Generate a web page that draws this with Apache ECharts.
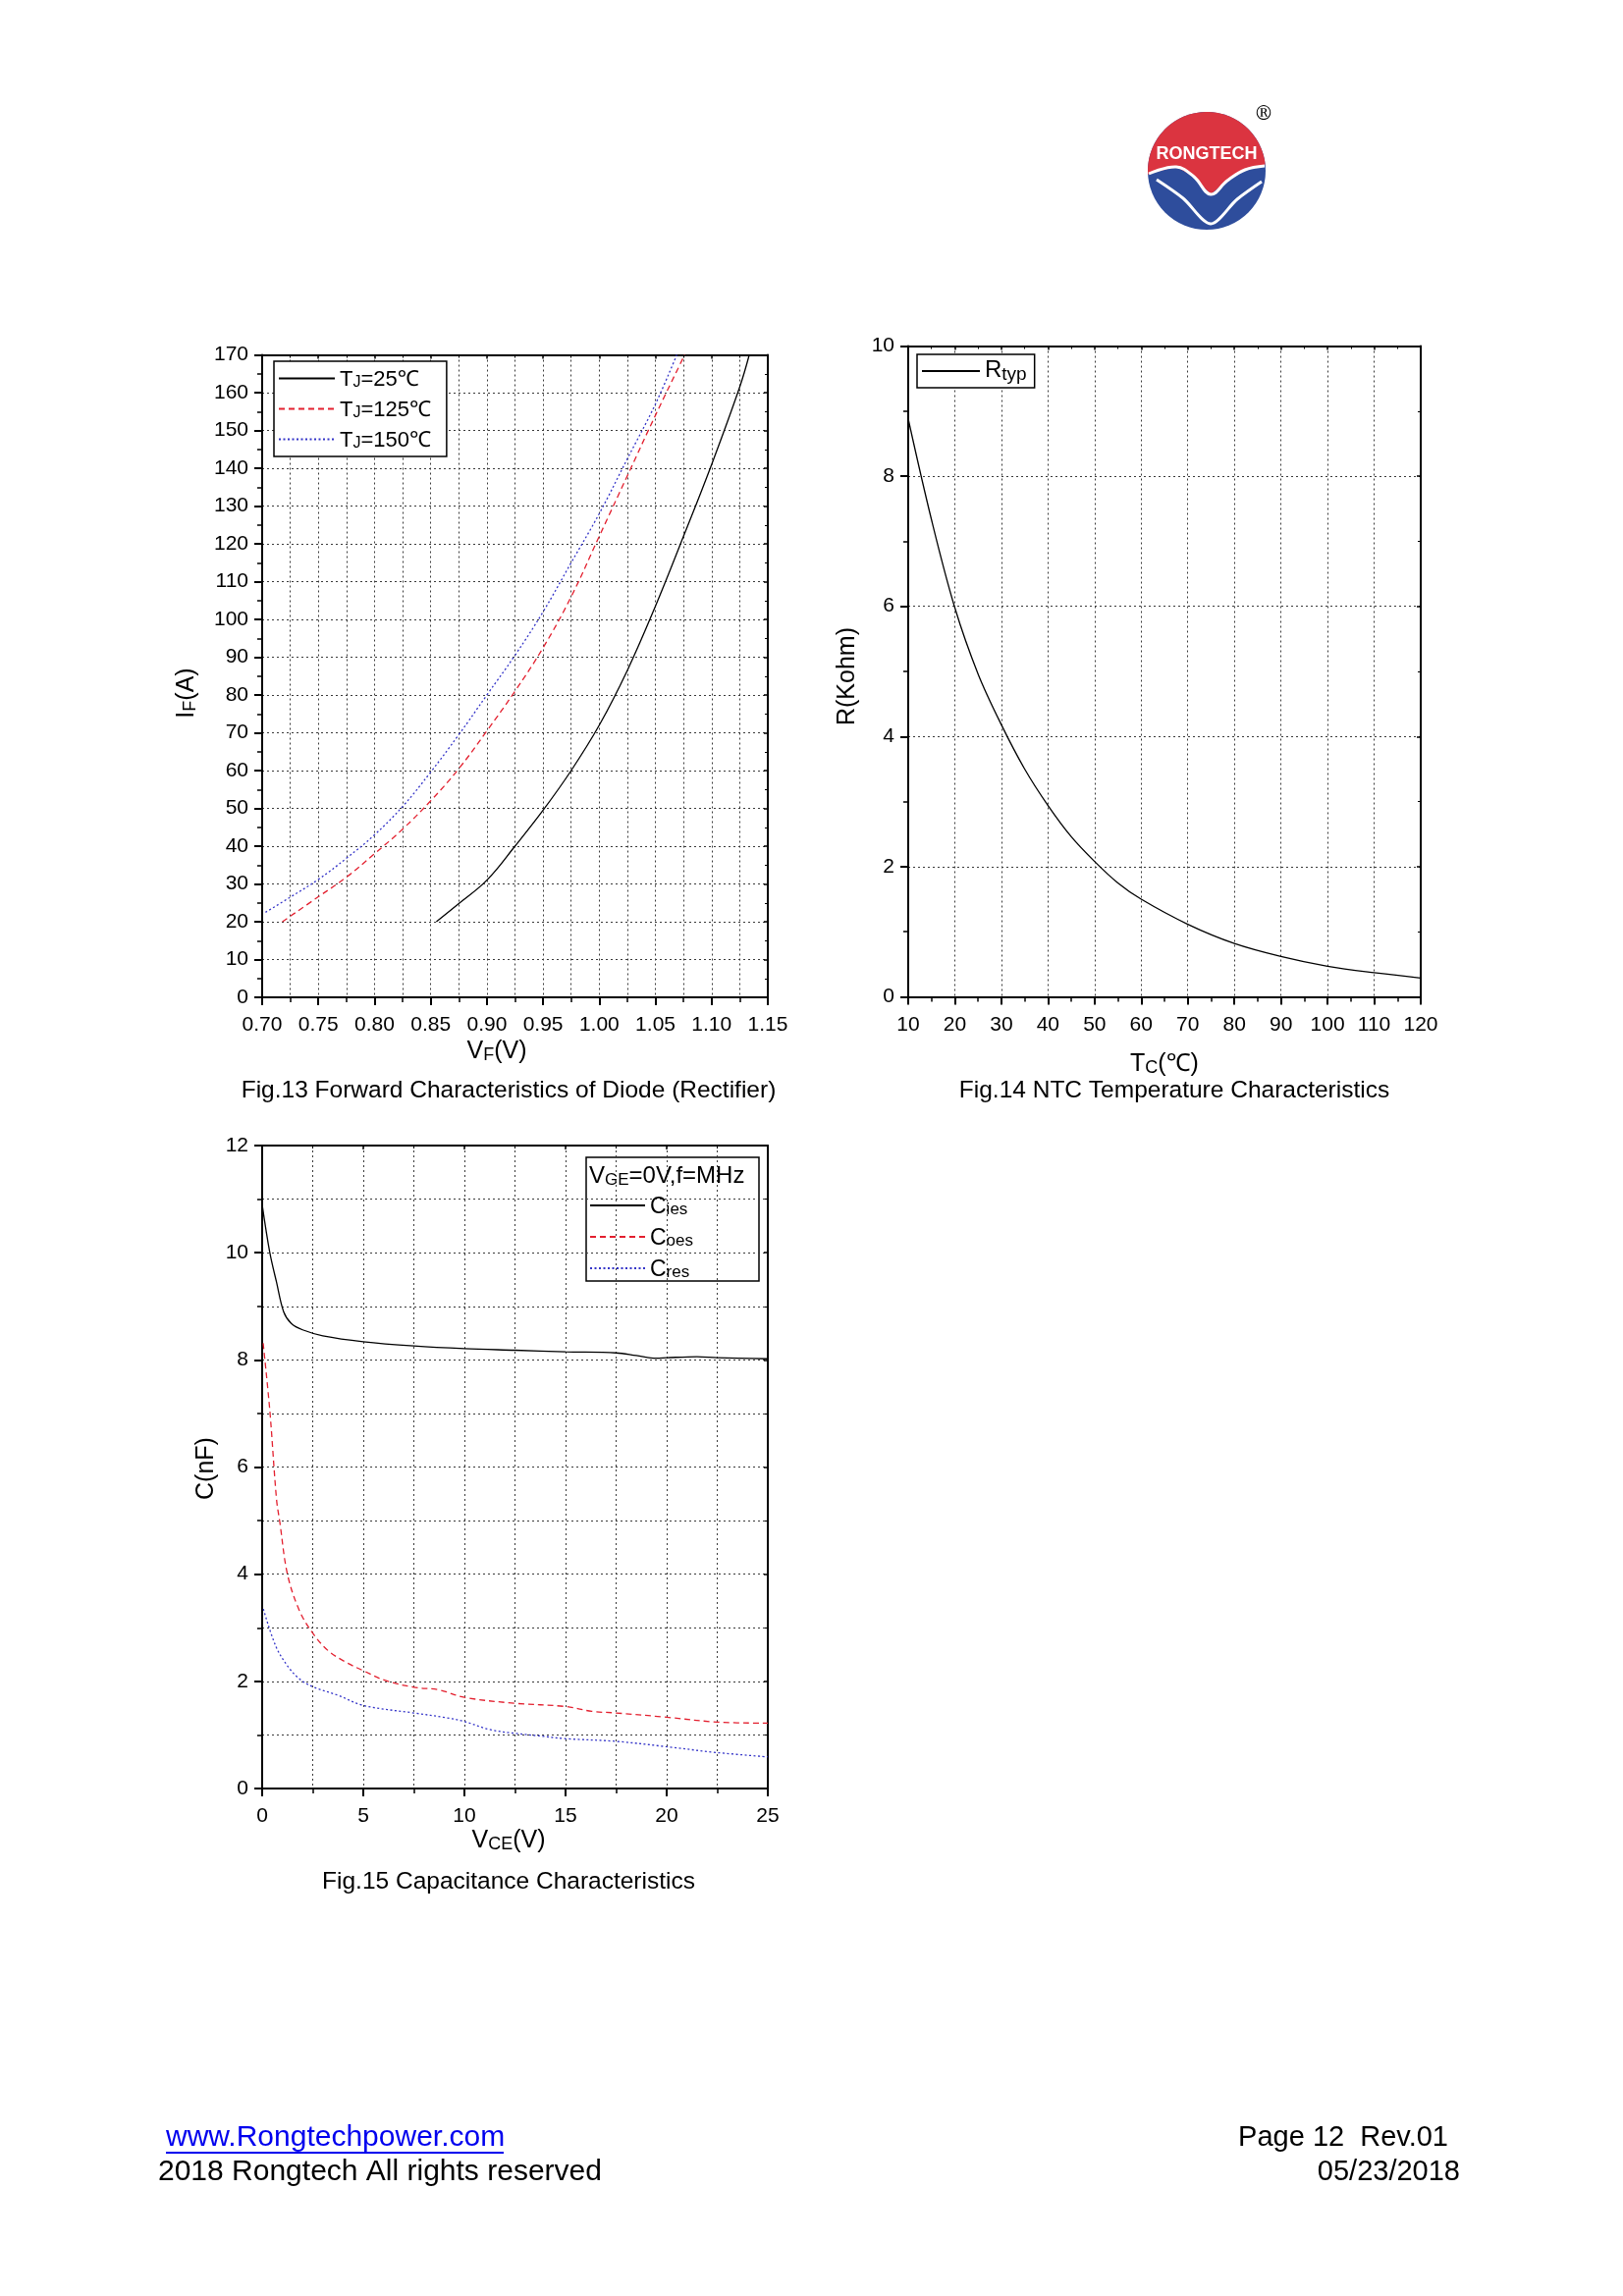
<!DOCTYPE html>
<html><head><meta charset="utf-8">
<script src="https://cdn.jsdelivr.net/npm/echarts@6/dist/echarts.min.js"></script>
<style>html,body{margin:0;padding:0;background:#fff}#c{width:1653px;height:2339px}</style>
</head><body><div id="c"></div>
<script>
// ---------- Fig.13 data ----------
const vf25  = [0.855,0.875,0.900,0.925,0.950,0.975,1.000,1.025,1.050,1.075,1.100,1.125,1.1335];
const if25  = [20,24.8,31,40,49.5,60,72,86.5,103.5,122,141,161.5,170];
const vf125 = [0.718,0.750,0.775,0.800,0.825,0.850,0.875,0.900,0.925,0.950,0.975,1.000,1.025,1.050,1.076];
const if125 = [20,26.6,31.8,38,44.5,52,60.5,70.5,81,92.5,106,122,138,154,170];
const vf150 = [0.703,0.725,0.750,0.775,0.800,0.825,0.850,0.875,0.900,0.925,0.950,0.975,1.000,1.025,1.050,1.069];
const if150 = [22.5,26.5,31.2,36.8,43,50.5,59.6,69.5,80,90.5,102,115,128,142.5,157,170];
// ---------- Fig.14 data ----------
const tc   = [10,15,20,25,30,35,40,45,50,55,60,70,80,90,100,110,120];
const rtyp = [8.88,7.33,5.98,4.96,4.18,3.5,2.94,2.46,2.08,1.75,1.50,1.115,0.82,0.62,0.47,0.37,0.29];
// ---------- Fig.15 data ----------
const vceIes = [0,0.38,0.71,1.06,1.44,2.0,3.0,5,7.5,10,12.5,15,17.5,18.5,19.5,20,21.5,22.5,25];
const cies   = [10.9,10.0,9.45,8.9,8.68,8.56,8.45,8.34,8.26,8.21,8.18,8.15,8.13,8.08,8.03,8.04,8.06,8.04,8.02];
const vceOes = [0.05,0.38,0.71,0.87,1.25,1.83,2.5,3.27,4.13,5,6.06,7.5,8.75,10,12.5,15,16.3,17.5,20,22.5,25];
const coes   = [8.31,7.05,5.4,4.98,4.0,3.33,2.9,2.57,2.36,2.2,2.02,1.89,1.84,1.70,1.59,1.53,1.44,1.41,1.33,1.24,1.22];
const vceRes = [0.06,0.67,1.25,1.83,2.5,3.75,5,7.5,9.13,10,11.25,12.5,13.75,15,17.5,20,22.5,25];
const cres   = [3.35,2.66,2.29,2.05,1.90,1.74,1.55,1.41,1.32,1.25,1.10,1.03,0.98,0.93,0.88,0.78,0.67,0.59];
// ---------- axis ticks ----------
const xTicks13 = {min:0.70, max:1.15, interval:0.05};
const yTicks13 = {min:0, max:170, interval:10};
const xTicks14 = {min:10, max:120, interval:10};
const yTicks14 = {min:0, max:10, interval:2};
const xTicks15 = {min:0, max:25, interval:5};
const yTicks15 = {min:0, max:12, interval:2};

const FONT = '"Liberation Sans", Arial, "Noto Sans", sans-serif';
const pairs = (xs, ys) => xs.map((x, i) => [x, ys[i]]);
const GRIDLINE = {color:'#3a3a3a', width:1, type:[2,3]};

function mainAxis(gi, t, pos, fmt, minorGrid, gridOn, isX) {
  return {
    type:'value', gridIndex:gi, position:pos, min:t.min, max:t.max, interval:t.interval,
    axisLine:{show:true, onZero:false, lineStyle:{color:'#000', width:2}},
    axisTick:{show:true, inside:false, length:8, lineStyle:{color:'#000', width:2}},
    minorTick:{show:true, splitNumber:2, length:5, lineStyle:{color:'#000', width:1.5}},
    axisLabel:{show:true, margin:isX ? 18 : 14, fontSize:21, fontFamily:FONT, color:'#000', formatter:fmt},
    splitLine:{show:gridOn, lineStyle:GRIDLINE},
    minorSplitLine:{show:minorGrid, lineStyle:GRIDLINE}
  };
}
function mirrorAxis(gi, t, pos) {
  return {
    type:'value', gridIndex:gi, position:pos, min:t.min, max:t.max, interval:t.interval,
    axisLine:{show:true, onZero:false, lineStyle:{color:'#000', width:2}},
    axisTick:{show:true, inside:true, length:4, lineStyle:{color:'#000', width:1.5}},
    minorTick:{show:true, splitNumber:2, length:3, lineStyle:{color:'#000', width:1}},
    axisLabel:{show:false}, splitLine:{show:false}
  };
}
function lineSeries(name, xi, yi, data, color, type, width, sm) {
  return {type:'line', name, xAxisIndex:xi, yAxisIndex:yi, data, symbol:'none', showSymbol:false,
    smooth:sm, z:5,
    lineStyle:{color, width, type}, itemStyle:{color}};
}
const HIDE_SYM = {color:'rgba(0,0,0,0)', borderColor:'rgba(0,0,0,0)', borderWidth:0};
const richLegend = (big, small, lh) => ({
  n:{fontSize:big, fontFamily:FONT, color:'#000', lineHeight:lh, verticalAlign:'bottom'},
  s:{fontSize:small, fontFamily:FONT, color:'#000', lineHeight:small+3, verticalAlign:'bottom'}
});
const legFmt = {
  'TJ=25℃':'{n|T}{s|J}{n|=25℃}', 'TJ=125℃':'{n|T}{s|J}{n|=125℃}', 'TJ=150℃':'{n|T}{s|J}{n|=150℃}',
  'Rtyp':'{r|R}{t|typ}', 'Cies':'{n|C}{s|ies}', 'Coes':'{n|C}{s|oes}', 'Cres':'{n|C}{s|res}'
};

function gText(x, y, rich, text, opts, size) {
  const st = {text, align:'center', verticalAlign:'middle', fill:'#000', fontFamily:FONT, fontSize:size || 24};
  if (rich) st.rich = rich;
  return Object.assign({type:'text', x, y, silent:true, style:st}, opts || {});
}
const axRich = {
  n:{fontSize:25, fontFamily:FONT, fill:'#000', lineHeight:28, verticalAlign:'bottom'},
  s:{fontSize:18, fontFamily:FONT, fill:'#000', lineHeight:21, verticalAlign:'bottom'}
};

// logo outline points (decoration, not data)
const LCX = 1229, LCY = 174, LR = 60;
const redPts = [];
for (let a = 184; a >= 6; a -= 3) {
  const r = a * Math.PI / 180;
  redPts.push([LCX + LR * Math.cos(r), LCY - LR * Math.sin(r)]);
}
const wave = [[1288,169],[1268,173],[1250,184],[1233,198],[1216,180],[1198,170],[1170,177]];
wave.forEach(p => redPts.push(p));

const chart = echarts.init(document.getElementById('c'), null, {renderer:'canvas'});
chart.setOption({
  animation:false,
  backgroundColor:'#fff',
  grid:[
    {left:267, top:361.5, width:515, height:654.5},
    {left:925, top:352.5, width:522, height:663},
    {left:267, top:1167, width:515, height:655}
  ],
  xAxis:[
    mainAxis(0, xTicks13, 'bottom', v => v.toFixed(2), true, true, true),
    mirrorAxis(0, xTicks13, 'top'),
    mainAxis(1, xTicks14, 'bottom', v => String(v), false, true, true),
    mirrorAxis(1, xTicks14, 'top'),
    mainAxis(2, xTicks15, 'bottom', v => String(v), true, true, true),
    mirrorAxis(2, xTicks15, 'top')
  ],
  yAxis:[
    mainAxis(0, yTicks13, 'left', v => String(v), false, true, false),
    mirrorAxis(0, yTicks13, 'right'),
    mainAxis(1, yTicks14, 'left', v => String(v), false, true, false),
    mirrorAxis(1, yTicks14, 'right'),
    mainAxis(2, yTicks15, 'left', v => String(v), true, true, false),
    mirrorAxis(2, yTicks15, 'right')
  ],
  legend:[
    {orient:'vertical', left:279, top:368, data:['TJ=25℃','TJ=125℃','TJ=150℃'],
     itemWidth:57, itemHeight:14, itemGap:6, padding:[5,16,5,4], itemStyle:HIDE_SYM,
     borderColor:'#000', borderWidth:1.5, backgroundColor:'#fff', selectedMode:false,
     formatter:n => legFmt[n],
     textStyle:{color:'#000', fontFamily:FONT, fontSize:22, lineHeight:25, rich:richLegend(22,16,25)}},
    {orient:'vertical', left:934, top:361, data:['Rtyp'],
     itemWidth:59, itemHeight:14, padding:[4,8,4,4], itemStyle:HIDE_SYM,
     borderColor:'#000', borderWidth:1.5, backgroundColor:'#fff', selectedMode:false,
     formatter:n => legFmt[n],
     textStyle:{color:'#000', fontFamily:FONT, fontSize:22, lineHeight:32,
       rich:{r:{fontSize:24, fontFamily:FONT, color:'#000', lineHeight:26, verticalAlign:'top'},
             t:{fontSize:19, fontFamily:FONT, color:'#000', lineHeight:21, verticalAlign:'bottom'}}}},
    {orient:'vertical', left:597, top:1215, data:['Cies','Coes','Cres'],
     itemWidth:56, itemHeight:14, itemGap:6, padding:[0,0,0,3], selectedMode:false, itemStyle:HIDE_SYM,
     formatter:n => legFmt[n],
     textStyle:{color:'#000', fontFamily:FONT, fontSize:23, lineHeight:26, rich:richLegend(23,17,26)}}
  ],
  series:[
    lineSeries('TJ=25℃', 0, 0, pairs(vf25, if25), '#000000', 'solid', 1.3, 0.4),
    lineSeries('TJ=125℃', 0, 0, pairs(vf125, if125), '#e3202f', [6,4], 1.3, 0.4),
    lineSeries('TJ=150℃', 0, 0, pairs(vf150, if150), '#3434c8', [2,2.5], 1.3, 0.4),
    lineSeries('Rtyp', 2, 2, pairs(tc, rtyp), '#000000', 'solid', 1.3, 0.35),
    lineSeries('Cies', 4, 4, pairs(vceIes, cies), '#000000', 'solid', 1.3, 0.35),
    lineSeries('Coes', 4, 4, pairs(vceOes, coes), '#e3202f', [6,4], 1.3, 0.35),
    lineSeries('Cres', 4, 4, pairs(vceRes, cres), '#3434c8', [2,2.5], 1.3, 0.35)
  ],
  graphic:[
    // logo
    {type:'circle', silent:true, shape:{cx:LCX, cy:LCY, r:LR}, style:{fill:'#2e4d9c'}},
    {type:'polygon', silent:true, shape:{points:redPts}, style:{fill:'#db3440'}},
    {type:'polyline', silent:true, shape:{points:wave, smooth:0.4}, style:{fill:null, stroke:'#fff', lineWidth:3}},
    {type:'polyline', silent:true, shape:{points:[[1178,183],[1205,202],[1233,228],[1260,203],[1285,185]], smooth:0.3},
     style:{fill:null, stroke:'#fff', lineWidth:3}},
    {type:'text', silent:true, x:1229, y:157, style:{text:'RONGTECH', align:'center', verticalAlign:'middle',
      fill:'#fff', fontFamily:FONT, fontWeight:'bold', fontSize:18}},
    {type:'text', silent:true, x:1287, y:117, style:{text:'®', align:'center', verticalAlign:'middle',
      fill:'#000', fontFamily:'"DejaVu Serif", serif', fontSize:20}},
    // axis titles
    gText(189, 706, axRich, '{n|I}{s|F}{n|(A)}', {rotation:Math.PI/2}),
    gText(506, 1070, axRich, '{n|V}{s|F}{n|(V)}'),
    gText(862, 689, axRich, '{n|R(Kohm)}', {rotation:Math.PI/2}),
    gText(1186, 1083, axRich, '{n|T}{s|C}{n|(℃)}'),
    gText(209, 1496, axRich, '{n|C(nF)}', {rotation:Math.PI/2}),
    gText(518, 1874, axRich, '{n|V}{s|CE}{n|(V)}'),
    // captions
    gText(518, 1111, null, 'Fig.13 Forward Characteristics of Diode (Rectifier)', null, 24.5),
    gText(1196, 1111, null, 'Fig.14 NTC Temperature Characteristics', null, 24.5),
    gText(518, 1917, null, 'Fig.15 Capacitance Characteristics', null, 24.5),
    // legend box + title for Fig.15
    {type:'rect', silent:true, shape:{x:597, y:1179, width:176, height:126}, z:-1,
     style:{fill:'#fff', stroke:'#000', lineWidth:1.5}},
    {type:'text', silent:true, x:600, y:1197, style:{text:'{n|V}{s|GE}{n|=0V,f=MHz}', align:'left', verticalAlign:'middle',
      rich:{n:{fontSize:24, fontFamily:FONT, fill:'#000', lineHeight:27, verticalAlign:'bottom'},
            s:{fontSize:17, fontFamily:FONT, fill:'#000', lineHeight:20, verticalAlign:'bottom'}}}},
    // footer
    {type:'text', silent:true, x:169, y:2178, style:{text:'www.Rongtechpower.com', align:'left', verticalAlign:'middle',
      fill:'#0000ee', fontFamily:FONT, fontSize:30}},
    {type:'line', silent:true, shape:{x1:169, y1:2193, x2:513, y2:2193}, style:{stroke:'#0000ee', lineWidth:2}},
    {type:'text', silent:true, x:161, y:2213, style:{text:'2018 Rongtech All rights reserved', align:'left', verticalAlign:'middle',
      fill:'#000', fontFamily:FONT, fontSize:30}},
    {type:'text', silent:true, x:1475, y:2178, style:{text:'Page 12  Rev.01', align:'right', verticalAlign:'middle',
      fill:'#000', fontFamily:FONT, fontSize:29}},
    {type:'text', silent:true, x:1487, y:2213, style:{text:'05/23/2018', align:'right', verticalAlign:'middle',
      fill:'#000', fontFamily:FONT, fontSize:29}}
  ]
});
</script></body></html>
